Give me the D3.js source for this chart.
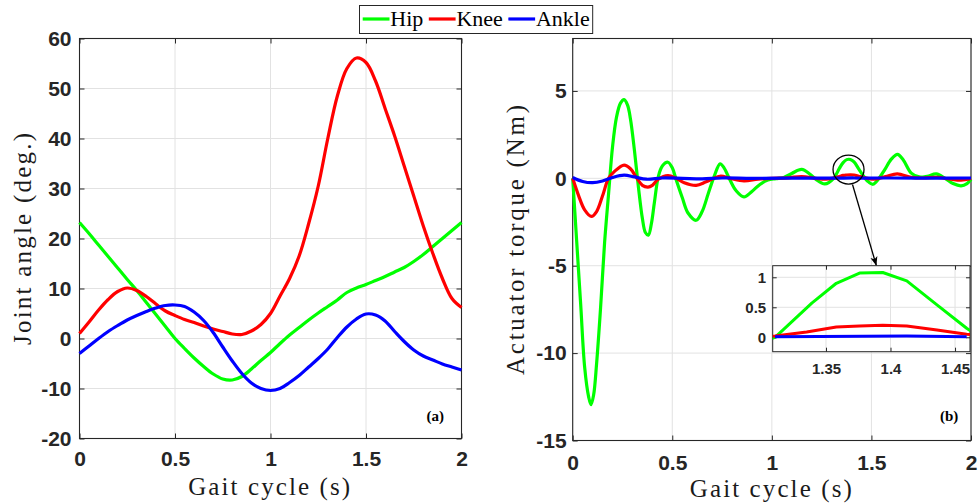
<!DOCTYPE html>
<html>
<head>
<meta charset="utf-8">
<script src="https://cdn.jsdelivr.net/npm/d3@7"></script>
<style>
body { margin: 0; background: #fff; }
svg { display: block; }
</style>
</head>
<body>
<svg id="svg1" width="979" height="504"></svg>
<script>
// joint angles (deg.) every 0.05 s
var angleTime = [0, 0.05, 0.1, 0.15, 0.2, 0.25, 0.3, 0.35, 0.4, 0.45, 0.5, 0.55, 0.6, 0.65, 0.7, 0.75, 0.8, 0.85, 0.9, 0.95,
    1, 1.05, 1.1, 1.15, 1.2, 1.25, 1.3, 1.35, 1.4, 1.45, 1.5, 1.55, 1.6, 1.65, 1.7, 1.75, 1.8, 1.85, 1.9, 1.95, 2];
var hipAngle = [23.2, 21.0, 18.7, 16.4, 14.1, 11.8, 9.6, 7.2, 4.8, 2.4, 0.0, -2.0, -3.9, -5.6, -7.1, -8.1, -8.3, -7.6, -6.1, -4.4,
    -2.8, -1.0, 0.7, 2.2, 3.7, 5.1, 6.4, 7.7, 9.2, 10.1, 10.8, 11.6, 12.4, 13.3, 14.2, 15.4, 16.8, 18.4, 20.0, 21.6, 23.2];
var kneeAngle = [1.0, 3.3, 5.7, 7.8, 9.4, 10.1, 9.6, 8.4, 6.9, 5.5, 4.6, 3.8, 3.2, 2.5, 1.9, 1.4, 0.9, 0.8, 1.5, 2.8,
    5.0, 8.5, 12.0, 16.5, 23.0, 30.5, 40.0, 48.5, 54.0, 56.1, 55.2, 51.5, 46.0, 40.5, 34.5, 28.5, 22.5, 17.0, 12.0, 8.0, 6.2];
var ankleAngle = [-3.0, -1.5, 0.0, 1.4, 2.6, 3.7, 4.6, 5.4, 6.1, 6.6, 6.7, 6.4, 5.3, 3.6, 1.2, -1.7, -4.5, -7.0, -8.9, -10.0,
    -10.4, -10.0, -8.8, -7.4, -5.7, -4.0, -2.1, 0.2, 2.3, 3.9, 4.9, 4.7, 3.5, 1.4, -0.6, -2.3, -3.5, -4.3, -5.1, -5.7, -6.3];

// actuator torques (Nm), each joint read at its own instants (s)
var hipTorqueTime = [0, 0.02, 0.04, 0.06, 0.08, 0.092, 0.105, 0.12, 0.14, 0.16, 0.18, 0.2, 0.22, 0.24, 0.258, 0.275, 0.29, 0.31,
    0.33, 0.35, 0.365, 0.38, 0.395, 0.41, 0.43, 0.45, 0.478, 0.5, 0.52, 0.55, 0.58, 0.62, 0.65, 0.68, 0.71, 0.74, 0.76, 0.79,
    0.82, 0.86, 0.9, 0.94, 0.98, 1.02, 1.06, 1.1, 1.15, 1.19, 1.22, 1.266, 1.3105, 1.339, 1.358, 1.376, 1.394, 1.4126, 1.436,
    1.459, 1.48, 1.508, 1.535, 1.567, 1.6, 1.631, 1.66, 1.7, 1.74, 1.78, 1.826, 1.87, 1.91, 1.95, 1.98, 2];
var hipTorque = [0, -3.6, -7.2, -10.8, -12.5, -12.95, -12.4, -10.6, -7.4, -3.7, -0.9, 1.8, 3.5, 4.3, 4.5, 4.2, 3.4, 1.6,
    -0.5, -2.3, -3.1, -3.25, -2.6, -1.4, 0.1, 0.7, 0.92, 0.6, -0.1, -1.1, -2.0, -2.4, -1.9, -0.9, 0.1, 0.83, 0.6, -0.1,
    -0.7, -1.06, -0.75, -0.35, -0.1, -0.02, 0.05, 0.28, 0.51, 0.25, -0.05, -0.32, 0.0, 0.57, 0.9, 1.07, 1.08, 0.94, 0.54,
    0.15, -0.15, -0.34, -0.05, 0.5, 1.1, 1.37, 1.05, 0.3, 0.08, 0.12, 0.25, 0.0, -0.3, -0.43, -0.3, -0.05];
var kneeTorqueTime = [0, 0.03, 0.06, 0.094, 0.12, 0.15, 0.18, 0.21, 0.258, 0.29, 0.32, 0.35, 0.378, 0.4, 0.43, 0.478, 0.52,
    0.56, 0.62, 0.67, 0.74, 0.79, 0.86, 0.93, 1.0, 1.08, 1.15, 1.22, 1.27, 1.3105, 1.335, 1.358, 1.376, 1.394, 1.4126, 1.436,
    1.459, 1.51, 1.57, 1.63, 1.7, 1.76, 1.83, 1.9, 1.95, 2];
var kneeTorque = [0, -1.0, -1.8, -2.18, -1.9, -1.0, 0.0, 0.4, 0.76, 0.55, 0.05, -0.4, -0.5, -0.4, -0.05, 0.15, 0.0,
    -0.25, -0.4, -0.2, 0.12, 0.0, -0.15, -0.05, 0.0, 0.03, 0.1, 0.0, -0.05, 0.02, 0.09, 0.17, 0.19, 0.2, 0.19, 0.12,
    0.05, -0.05, 0.1, 0.26, 0.05, 0.02, 0.05, -0.05, -0.1, 0.0];
var ankleTorqueTime = [0, 0.05, 0.1, 0.15, 0.2, 0.258, 0.31, 0.37, 0.45, 0.55, 0.65, 0.75, 0.9, 1.1, 1.3105, 1.4126, 1.459,
    1.6, 1.8, 2];
var ankleTorque = [0.05, -0.18, -0.25, -0.15, 0.05, 0.18, 0.08, -0.05, 0.02, 0.0, -0.03, 0.02, 0.0, 0.01, 0.01, 0.02, 0.01,
    0.02, 0.01, 0.02];

var jointNames = ['Hip', 'Knee', 'Ankle'];
var jointColors = ['#00ff00', '#ff0000', '#0000ff'];

var timeTicks = [0, 0.5, 1, 1.5, 2];
var angleTicks = [-20, -10, 0, 10, 20, 30, 40, 50, 60];
var torqueTicks = [-15, -10, -5, 0, 5];
var zoomTimeTicks = [1.35, 1.4, 1.45];
var zoomTorqueTicks = [0, 0.5, 1];

var svg = d3.select('#svg1');
var sansFont = '"Liberation Sans", Arial, Helvetica, sans-serif';
var serifFont = '"Liberation Serif", "Times New Roman", serif';
var axisColor = '#262626';
var gridColor = '#e2e2e2';

function pairs(t, v) {
    return t.map(function(d, i){ return [d, v[i]]; });
}
function fmt(d) { return String(d); }

// grid + boxed axes with inward ticks, MATLAB style
function drawAxes(g, x, y, xt, yt, o) {
    var w = x.range()[1], h = y.range()[0];

    g.append('g').selectAll('line').data(xt).join('line')
        .attr('x1', x).attr('x2', x).attr('y1', 0).attr('y2', h)
        .attr('stroke', gridColor).attr('stroke-width', 1);
    g.append('g').selectAll('line').data(yt).join('line')
        .attr('x1', 0).attr('x2', w).attr('y1', y).attr('y2', y)
        .attr('stroke', gridColor).attr('stroke-width', 1);

    var axes = [
        g.append('g').attr('transform', 'translate(0,' + h + ')')
            .call(d3.axisBottom(x).tickValues(xt).tickSize(-o.tick).tickSizeOuter(0).tickPadding(o.padX).tickFormat(fmt)),
        g.append('g')
            .call(d3.axisLeft(y).tickValues(yt).tickSize(-o.tick).tickSizeOuter(0).tickPadding(o.padY).tickFormat(fmt)),
        g.append('g')
            .call(d3.axisTop(x).tickValues(xt).tickSize(-o.tick).tickSizeOuter(0).tickFormat('')),
        g.append('g').attr('transform', 'translate(' + w + ',0)')
            .call(d3.axisRight(y).tickValues(yt).tickSize(-o.tick).tickSizeOuter(0).tickFormat(''))
    ];
    axes.forEach(function(a){
        a.select('.domain').remove();
        a.selectAll('.tick line').attr('stroke', axisColor).attr('stroke-width', 1);
        a.selectAll('.tick text')
            .attr('fill', axisColor)
            .style('font-family', sansFont)
            .style('font-weight', 'bold')
            .style('font-size', o.fontSize + 'px');
    });

    g.append('rect')
        .attr('width', w).attr('height', h)
        .attr('fill', 'none')
        .attr('stroke', axisColor)
        .attr('stroke-width', o.frame);
}

function drawLines(g, x, y, series, width, curve) {
    var line = d3.line()
        .x(function(d){ return x(d[0]); })
        .y(function(d){ return y(d[1]); })
        .curve(curve);
    g.selectAll('path.joint')
        .data(series)
        .enter()
        .append('path')
        .attr('class', 'joint')
        .attr('d', function(d){ return line(d); })
        .attr('fill', 'none')
        .attr('stroke', function(d, i){ return jointColors[i]; })
        .attr('stroke-width', width)
        .attr('stroke-linejoin', 'round');
}

function axisLabel(x, y, rot, txt, len) {
    svg.append('text')
        .attr('transform', 'translate(' + x + ',' + y + ') rotate(' + rot + ')')
        .attr('text-anchor', 'middle')
        .attr('textLength', len)
        .attr('lengthAdjust', 'spacing')
        .style('font-family', serifFont)
        .style('font-size', '25px')
        .attr('fill', '#1a1a1a')
        .text(txt);
}

// ---------- (a) joint angles ----------
var leftG = svg.append('g').attr('transform', 'translate(79.5,38.5)');
var xA = d3.scaleLinear().domain([0, 2]).range([0, 382]);
var yA = d3.scaleLinear().domain([-20, 60]).range([400, 0]);
drawAxes(leftG, xA, yA, timeTicks, angleTicks, {tick: 5, padX: 12.5, padY: 8, fontSize: 21, frame: 1.1});
drawLines(leftG, xA, yA, [pairs(angleTime, hipAngle), pairs(angleTime, kneeAngle), pairs(angleTime, ankleAngle)],
    3.2, d3.curveCatmullRom.alpha(0.5));
leftG.append('text').attr('x', 347).attr('y', 382.5)
    .style('font-family', serifFont).style('font-weight', 'bold').style('font-size', '15px')
    .text('(a)');

// ---------- (b) actuator torques ----------
var rightG = svg.append('g').attr('transform', 'translate(572.7,38.5)');
var xT = d3.scaleLinear().domain([0, 2]).range([0, 398.3]);
var yT = d3.scaleLinear().domain([-15, 8]).range([402, 0]);
drawAxes(rightG, xT, yT, timeTicks, torqueTicks, {tick: 5, padX: 14.5, padY: 6, fontSize: 21, frame: 1.1});
var torqueSeries = [pairs(hipTorqueTime, hipTorque), pairs(kneeTorqueTime, kneeTorque), pairs(ankleTorqueTime, ankleTorque)];
drawLines(rightG, xT, yT, torqueSeries, 3.2, d3.curveCatmullRom.alpha(0.5));
rightG.append('text').attr('x', 367.3).attr('y', 382.5)
    .style('font-family', serifFont).style('font-weight', 'bold').style('font-size', '15px')
    .text('(b)');

// circle + arrow pointing into the zoomed view
svg.append('defs').append('marker')
    .attr('id', 'arrowHead')
    .attr('viewBox', '0 0 10 10')
    .attr('refX', 10).attr('refY', 5)
    .attr('markerWidth', 9).attr('markerHeight', 9)
    .attr('markerUnits', 'userSpaceOnUse')
    .attr('orient', 'auto')
    .append('path').attr('d', 'M0,1 L10,5 L0,9 L2.5,5 Z').attr('fill', '#000');
rightG.append('ellipse')
    .attr('cx', xT(1.385)).attr('cy', yT(0.5))
    .attr('rx', 15.5).attr('ry', 14.5)
    .attr('fill', 'none').attr('stroke', '#000').attr('stroke-width', 1.3);
rightG.append('line')
    .attr('x1', xT(1.405)).attr('y1', yT(-0.35))
    .attr('x2', xT(1.525)).attr('y2', yT(-5.0))
    .attr('stroke', '#000').attr('stroke-width', 1.3)
    .attr('marker-end', 'url(#arrowHead)');

// ---------- zoomed inset ----------
var insetG = svg.append('g').attr('transform', 'translate(772.7,265.7)');
var xZ = d3.scaleLinear().domain([1.3087, 1.4616]).range([0, 197.3]);
var yZ = d3.scaleLinear().domain([-0.24, 1.193]).range([86, 0]);
insetG.append('rect').attr('width', 197.3).attr('height', 86).attr('fill', '#fff');
svg.select('defs').append('clipPath').attr('id', 'insetClip')
    .append('rect').attr('width', 197.3).attr('height', 86);
drawAxes(insetG, xZ, yZ, zoomTimeTicks, zoomTorqueTicks, {tick: 4, padX: 11.5, padY: 6.5, fontSize: 15, frame: 1});
var zoomG = insetG.append('g').attr('clip-path', 'url(#insetClip)');
drawLines(zoomG, xZ, yZ, torqueSeries.map(function(s){
    return s.filter(function(d){ return d[0] > 1.25 && d[0] < 1.52; });
}), 3, d3.curveLinear);

// ---------- axis labels ----------
axisLabel(269.2, 495, 0, 'Gait cycle (s)', 162);
axisLabel(770.8, 497, 0, 'Gait cycle (s)', 162);
axisLabel(31, 239, -90, 'Joint angle (deg.)', 212);
axisLabel(524, 240, -90, 'Actuator torque (Nm)', 270);

// ---------- legend ----------
var legend = svg.append('g');
var legendBox = legend.append('rect')
    .attr('x', 359.5).attr('y', 5.5).attr('width', 232).attr('height', 28)
    .attr('fill', '#fff').attr('stroke', axisColor).attr('stroke-width', 1);
var lx = 362.7;
jointNames.forEach(function(name, i){
    legend.append('line')
        .attr('x1', lx).attr('x2', lx + 26.8).attr('y1', 19).attr('y2', 19)
        .attr('stroke', jointColors[i]).attr('stroke-width', 3.2);
    var t = legend.append('text')
        .attr('x', lx + 27.6).attr('y', 25.5)
        .style('font-family', serifFont).style('font-size', '22px')
        .attr('fill', '#000')
        .text(name);
    lx = lx + 27.6 + t.node().getComputedTextLength() + 5.5;
});
legendBox.attr('width', lx - 2.5 - 359.5);
</script>
</body>
</html>
